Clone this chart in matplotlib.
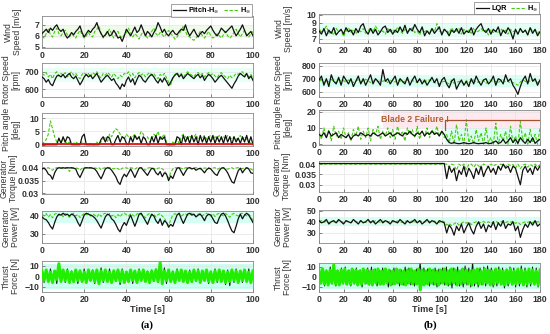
import numpy as np
import matplotlib
matplotlib.use("Agg")
import matplotlib.pyplot as plt

# ---------------- data (a): 0..100 s ----------------
wind_a_pitch = [6.2,6.4,6.6,6.3,6.7,6.5,6.8,7.0,6.6,6.4,6.6,6.1,5.8,6.0,6.3,6.1,6.4,6.6,6.9,6.3,5.9,6.2,6.5,6.3,6.6,6.8,7.2,6.6,6.2,5.9,6.1,6.4,6.0,6.1,6.5,6.2,5.8,5.9,5.5,6.0,6.6,6.3,6.0,6.4,6.8,6.3,6.5,7.0,6.5,6.0,6.4,6.2,5.9,6.3,6.6,7.2,6.8,6.3,6.6,6.2,6.0,6.3,6.5,6.2,6.1,6.4,6.6,6.5,7.0,6.4,6.0,6.3,6.6,6.2,5.9,6.2,6.4,6.2,6.5,6.7,6.9,6.5,6.2,6.0,6.3,6.7,6.5,6.3,6.5,6.7,6.9,6.4,6.0,6.3,6.6,7.0,6.5,6.0,6.2,6.4,6.0]
wind_a_hinf = [6.0,5.8,6.2,6.6,6.1,5.9,6.4,6.7,6.2,6.0,6.3,6.5,6.1,5.9,6.2,6.0,5.8,6.2,6.5,6.1,5.8,6.0,6.3,6.0,5.9,6.4,6.6,6.9,6.2,5.8,6.0,6.3,6.6,6.2,5.8,6.1,6.4,6.0,5.8,6.1,6.3,6.7,6.2,5.9,6.2,6.0,5.7,6.1,6.4,6.1,5.8,6.0,6.4,6.7,6.2,6.0,6.3,6.1,5.9,6.2,6.5,6.2,6.0,5.7,5.9,6.2,6.5,6.9,6.4,6.0,5.9,5.7,5.6,5.8,6.1,6.4,6.0,5.8,6.1,6.4,6.0,5.8,5.9,6.2,6.0,5.8,6.1,6.4,6.0,5.8,6.0,6.3,6.6,6.2,5.9,6.2,6.5,6.1,5.9,6.2,6.4]

rotor_a_pitch = [670,660,640,655,630,620,650,675,680,670,685,665,680,690,670,660,675,650,625,645,670,685,670,680,660,675,690,665,640,655,670,680,665,650,660,635,620,600,630,615,650,670,640,660,625,655,680,670,650,640,660,675,685,670,650,635,660,640,665,645,620,640,665,680,690,670,685,660,675,690,680,670,660,675,685,665,680,650,670,685,675,660,640,655,670,680,665,650,635,620,605,630,650,675,690,680,670,690,660,675,650]
rotor_a_hinf = [690,680,695,670,685,660,690,700,675,690,680,695,670,685,700,680,690,670,660,685,695,680,690,670,695,685,700,675,665,690,680,695,685,670,690,675,660,680,670,690,685,700,675,690,665,685,695,680,690,670,685,695,680,690,670,660,685,675,690,665,640,625,660,685,695,680,690,670,685,700,690,680,670,690,695,680,690,670,685,695,680,690,675,665,685,695,680,670,660,680,665,675,690,685,695,700,680,690,670,685,660]

pitch_a_pitch = [0,0,0,0,0,0,0,0,2.5,0.5,3,1,3,2.5,0,0,0,0,0,3,4,0,0,0,0,0,0,0,2,3,1,3,2.5,0,0,2,3.5,1,3,2.5,0.5,0,3,1,3.5,2,3,0.5,3,2,0,0,3,1,3.5,0.5,3,2,3,0,0,0,0,0,3,2.5,0,3.5,1,3,0.5,3.5,1,3,0,3.5,1,3,0.5,3,1,3.5,0.5,3,1,3,0.5,3.5,1,3,0,3,1,2.5,0.5,3,1,3.5,0.5,3,0]
pitch_a_hinf = [0,1,2,4,9,6,3,1,2,1,2,1,0.5,1,0,0.5,1,0.5,0,1,0.5,0,0,0.5,0,0,1,0,1,2,3,1,4,3,5,6,5.5,4,3,2,4,3,2,3,4,2,3,5,4,2,3,1,2,4,3,5,2,3,4,1,0.5,0,1,0.5,2,0.5,3,4,3,2,3.5,2.5,3,4,2,3,2.5,3.5,2,3,3.5,2,3,2.5,3.5,2,3,2,3.5,3,2,3,2,2.5,3.5,2,3,2,1,0.5,0]

torque_a_pitch = [0.0395,0.0398,0.039,0.0375,0.037,0.0355,0.038,0.0395,0.04,0.0398,0.04,0.0398,0.04,0.0399,0.04,0.0398,0.0395,0.0375,0.0362,0.038,0.0398,0.04,0.0399,0.04,0.0398,0.0395,0.0385,0.037,0.0357,0.0375,0.0395,0.04,0.0398,0.039,0.0378,0.0365,0.0345,0.0335,0.036,0.0375,0.0365,0.038,0.0395,0.038,0.0362,0.038,0.0398,0.04,0.039,0.038,0.037,0.0385,0.0398,0.0395,0.038,0.0372,0.0385,0.0365,0.038,0.0375,0.035,0.0368,0.0358,0.038,0.0398,0.04,0.0385,0.037,0.0385,0.0398,0.04,0.0395,0.0398,0.039,0.0395,0.0398,0.039,0.038,0.0392,0.0398,0.0395,0.0385,0.0375,0.037,0.0388,0.0398,0.04,0.0392,0.038,0.0362,0.0345,0.034,0.0365,0.0388,0.0398,0.038,0.0392,0.04,0.0395,0.038,0.0378]
torque_a_hinf = [0.04,0.0399,0.0398,0.04,0.0395,0.039,0.0398,0.04,0.0399,0.04,0.0396,0.04,0.0399,0.0385,0.0398,0.04,0.0399,0.0397,0.039,0.0398,0.04,0.0399,0.04,0.0398,0.04,0.0399,0.0397,0.04,0.0392,0.0398,0.04,0.0399,0.04,0.0398,0.0395,0.04,0.0396,0.039,0.0398,0.04,0.0399,0.0397,0.04,0.0398,0.0394,0.04,0.0399,0.04,0.0396,0.039,0.0398,0.04,0.0399,0.0397,0.0392,0.0398,0.04,0.0395,0.039,0.0375,0.036,0.038,0.0395,0.04,0.0399,0.04,0.0398,0.0394,0.04,0.0399,0.04,0.0397,0.0399,0.04,0.0398,0.0395,0.04,0.0398,0.0399,0.04,0.0396,0.0399,0.04,0.0393,0.0398,0.04,0.0399,0.0397,0.0394,0.0398,0.04,0.0395,0.0399,0.04,0.0398,0.0396,0.04,0.0399,0.0398,0.0395,0.039]

power_a_pitch = [39,38,37.5,36,34,32.5,36,39,40.5,40,41,40,40.5,39.5,40.5,40,38.5,36,34,37,40,41,40.5,40,39.5,38.5,37,35,33,36,39,40.5,40,38,37,35,32.5,31,34,36,34.5,37.5,40,37,34,37,40.5,41,39,37,35,38,40.5,39.5,37,35.5,38,34.5,37,36,33.5,35,34,37,40,41,38,35.5,38,40.5,41,40,40.5,39,40,40.5,39,37,39.5,40.5,40,38,36,35.5,38.5,40.5,41,39.5,37,34,31.5,30.5,34,38,40.5,38,40,41,40,38,36]
power_a_hinf = [40.5,39.5,40.8,39,40.2,38.5,40.5,41,39.8,40.6,39.2,40.8,40,38.8,40.5,41,39.6,40.3,38.7,39.9,40.8,40.2,41,39.5,40.6,40,38.9,40.7,39.3,40.5,41,40.1,40.8,39.4,40.2,38.6,40.3,39,40.6,41,40.2,39.5,40.8,40,39.2,40.6,41,40.3,39.7,38.5,40.2,40.9,39.6,40.5,39,40.3,40.8,39.4,38.5,36,34.5,37.5,40,40.8,40.2,41,39.5,40.3,40.7,39.8,40.5,41,40.1,39.3,40.6,40.9,39.7,40.4,41,40,39.5,40.7,39.2,40.5,40.9,40.2,39.6,40.8,40,38.8,40.4,40.9,40.1,39.5,40.7,41,40.3,39.6,40.5,39,37]

thrust_a_pitch = [6,-6,4,-5,7,-4,5,-7,8,-5,6,-6,7,-5,5,-6,4,-7,6,-5,7,-6,5,-4,6,-7,5,-5,8,-6,4,-5,7,-6,6,-5,5,-8,7,-6,4,-5,6,-7,5,-6,7,-4,6,-5,5,-7,6,-5,7,-6,4,-5,8,-7,6,-5,5,-6,7,-4,6,-5,5,-7,6,-6,4,-5,7,-6,5,-4,6,-7,5,-5,7,-6,6,-5,4,-8,6,-9,5,-6,7,-5,4,-6,6,-5,7,-6,5]
thrust_a_hinf = [5,-4,6,-5,4,-6,5,-3,12,-5,6,-4,5,-6,4,-5,6,-4,5,-5,4,-6,6,-4,5,-5,6,-7,5,-4,6,-5,4,-6,5,-4,6,-5,5,-6,4,-5,6,-4,5,-6,5,-4,6,-5,4,-6,5,-4,6,-5,13,-7,5,-4,6,-5,4,-6,5,-4,6,-5,5,-6,4,-5,6,-4,5,-6,5,-4,6,-5,4,-6,5,-4,6,-5,5,-6,4,-5,6,-4,5,-6,5,-4,6,-5,4,-6,5]

# ---------------- data (b): 0..180 s ----------------
wind_b_lqr = [8.0,7.6,8.3,7.4,8.1,7.7,8.4,7.5,7.9,8.2,7.6,8.4,7.9,8.1,7.5,8.3,7.8,8.6,8.9,8.0,7.6,8.3,7.7,8.2,7.5,7.9,8.4,8.6,7.8,8.2,7.6,8.1,7.8,8.5,7.9,8.7,7.7,8.3,8.0,8.8,8.2,7.8,8.5,7.4,8.0,7.6,8.3,7.7,8.1,8.5,7.5,8.2,7.9,7.4,8.1,7.8,8.3,7.7,8.4,7.6,8.0,7.8,8.4,7.5,8.2,8.6,8.9,8.1,7.8,8.3,7.6,8.2,7.9,8.5,7.4,8.1,7.7,8.4,7.9,7.0,8.2,7.6,8.3,7.8,8.1,7.5,8.4,7.7,8.2,7.4,7.9]
wind_b_hinf = [8.3,7.8,8.1,8.6,7.7,8.0,7.5,8.3,7.9,8.1,7.3,8.0,8.4,7.8,8.2,7.6,8.1,7.9,8.3,7.7,8.0,8.4,7.9,8.6,8.1,7.8,8.0,7.6,8.3,7.9,8.2,7.8,8.5,8.0,7.7,8.2,7.9,8.1,8.4,7.8,8.0,7.5,8.3,7.9,8.1,7.6,8.3,7.9,8.9,8.0,7.8,8.2,8.1,7.7,8.4,7.9,8.0,8.3,7.6,8.2,7.9,8.1,7.7,8.4,7.8,8.0,8.3,7.9,8.1,7.5,8.2,7.8,8.0,7.7,8.3,7.9,8.1,7.6,8.2,7.9,8.0,7.6,8.3,7.8,8.1,7.5,8.4,7.9,8.1,7.7,8.0]

rotor_b_lqr = [690,720,650,700,640,730,680,660,710,650,720,690,660,700,640,680,720,660,700,650,690,730,660,700,680,650,770,680,700,660,690,720,650,700,680,660,710,650,690,720,670,700,660,690,650,680,710,670,700,640,690,710,660,630,680,700,620,660,690,650,680,640,700,660,720,680,650,690,700,660,680,720,650,700,690,660,730,680,700,650,620,580,640,690,720,660,740,680,700,650,690]
rotor_b_hinf = [680,690,670,685,675,695,680,670,690,680,685,675,690,680,670,685,690,675,680,695,685,670,680,690,675,685,680,690,670,685,680,675,690,685,670,680,690,675,685,680,670,690,680,675,685,690,680,670,665,660,675,680,670,660,690,665,670,680,675,660,685,670,680,690,670,675,680,685,665,680,690,675,680,670,685,690,675,680,665,670,660,650,675,690,680,670,685,690,680,670,685]

pitch_b_lqr = [6,5,7,4,8,5,6,7,4,6,5,4,6,3,5,6,5,7,6,5,6,5,7,6,5,6,7,5,6,7,5,6,7,6,5,7,6,8,6,5,7,6,8,5,7,6,8,6,7,5,8,6,3,1,0.5,1,0.5,0.3,0.5,1,0.5,0.3,0.5,1,0.5,0.3,0.5,0.5,1,0.3,0.5,1,2,0.5,1,3,0.5,2,4,1,3,0.5,4,2,0.5,3,1,4,0.5,2,3]
pitch_b_hinf = [8,3,10,4,9,2,11,5,8,3,10,4,7,2,9,5,11,3,8,4,10,2,9,6,11,3,8,5,10,4,9,3,11,5,8,2,10,6,9,4,11,3,8,5,10,4,9,6,11,5,8,4,6,1,8,0,12,2,6,0,15,1,5,0,9,2,7,0,10,1,4,0,13,0,6,2,8,0,11,1,5,0,14,2,7,0,9,1,6,0,10]

torque_b_lqr = [0.0403,0.0403,0.0403,0.0403,0.0403,0.0403,0.0403,0.0403,0.0403,0.0403,0.0403,0.0403,0.0403,0.0403,0.0403,0.0403,0.0403,0.0403,0.0403,0.0403,0.0403,0.0403,0.0403,0.0403,0.0403,0.0403,0.0403,0.0403,0.0403,0.0403,0.0403,0.0403,0.0403,0.0403,0.0403,0.0403,0.0403,0.0403,0.0403,0.0403,0.0403,0.0403,0.0403,0.0403,0.0403,0.0403,0.0403,0.0403,0.0403,0.0403,0.0403,0.0403,0.033,0.039,0.036,0.038,0.032,0.037,0.035,0.039,0.034,0.038,0.036,0.033,0.038,0.035,0.039,0.034,0.037,0.039,0.036,0.038,0.035,0.039,0.037,0.04,0.038,0.039,0.036,0.039,0.038,0.034,0.03,0.037,0.039,0.036,0.038,0.035,0.039,0.037,0.039]
torque_b_hinf = [0.04,0.04,0.04,0.04,0.04,0.04,0.04,0.04,0.04,0.04,0.04,0.04,0.04,0.04,0.04,0.04,0.04,0.04,0.04,0.04,0.04,0.04,0.04,0.04,0.04,0.04,0.04,0.04,0.04,0.04,0.04,0.04,0.04,0.04,0.04,0.04,0.04,0.04,0.04,0.04,0.04,0.04,0.04,0.04,0.04,0.04,0.04,0.04,0.04,0.04,0.04,0.04,0.04,0.0385,0.04,0.0395,0.037,0.04,0.039,0.04,0.0375,0.0398,0.04,0.0385,0.04,0.0392,0.0375,0.04,0.0395,0.0385,0.04,0.039,0.0398,0.0382,0.04,0.0395,0.0388,0.04,0.0392,0.0398,0.038,0.04,0.0378,0.0395,0.04,0.0385,0.0398,0.039,0.04,0.0385,0.0398]

power_b_lqr = [41,39,40,42,38,40,41,39,42,40,38,41,40,39,42,40,38,41,39,40,42,39,41,38,40,42,39,41,40,38,41,40,39,42,40,38,41,39,40,42,39,41,38,40,42,39,41,40,38,41,40,39,30,37,34,28,36,32,38,30,35,39,33,29,36,40,34,38,31,37,35,40,33,39,36,41,34,38,37,40,32,36,26,33,38,35,40,37,41,36,38]
power_b_hinf = [40,41,39.5,40.5,39,40.8,40,39.2,41,40.2,39.5,40.6,40,39.3,40.8,40.2,39.6,41,40,39.4,40.7,40.1,39.5,40.9,40.2,39.6,40.5,40,39.2,40.8,40.1,39.6,40.7,40,39.3,40.6,40.2,39.5,41,40,39.4,40.7,40.1,39.6,40.8,40.2,39.5,40.6,40,39.3,40.7,40.1,37,38.5,36.5,38,39.5,37,38.5,40,38.8,39.5,37.5,39,40,38.5,39.5,40.2,39,40,38.6,39.8,40.3,39.2,40,40.5,39.4,40.1,39.6,40.4,38.5,39.6,37.5,39,40,39.5,40.2,39.2,40.5,39.8,40]

thrust_b_lqr = [9,-7,8,-9,7,-8,10,-7,8,-9,7,-8,9,-7,10,-8,7,-9,8,-7,9,-8,7,-10,8,-7,9,-8,10,-7,8,-9,7,-8,9,-7,8,-10,7,-8,9,-7,8,-9,7,-8,10,-7,9,-8,7,-9,8,-7,15,-8,9,-7,8,-9,7,-8,9,-10,8,-7,9,-8,10,-9,8,-11,9,-8,10,-9,8,-10,11,-8,9,-10,15,-9,8,-10,9,-8,10,-9,11,-8,9,-10,8,-9,10,-8,9,-11,8,-9,10,-8,9,-10,8,-9,11,-8,9,-10,8,-9,10,-8,9,-10,8]
thrust_b_hinf = [7,-6,8,-7,6,-8,7,-6,12,-7,6,-8,7,-6,8,-7,6,-7,8,-6,7,-8,6,-7,8,-6,7,-7,6,-8,7,-6,8,-7,6,-7,8,-6,7,-8,6,-7,8,-6,7,-7,6,-8,7,-6,8,-7,6,-7,8,-13,7,-8,6,-7,8,-6,7,-7,6,-8,7,-6,8,-7,6,-7,8,-6,7,-8,6,-7,8,-6,7,-7,6,-8,7,-6,8,-7,6,-7,8,-6,7,-8,6,-7,8,-6,7,-7,6,-8,7,-6,8,-7,6,-7,8,-6,7,-8,6,-7,8,-6,7,-7,6,-8,7]

ylabels = ["Wind\nSpeed [m/s]", "Rotor Speed\n[rpm]", "Pitch angle\n[deg]",
           "Generator\nTorque [Nm]", "Generator\nPower [W]", "Thrust\nForce [N]"]
xticks_a = [0, 20, 40, 60, 80, 100]
xticks_b = [0, 20, 40, 60, 80, 100, 120, 140, 160, 180]
yticks_a = [[5, 6, 7], [600, 700], [0, 5, 10], [0.03, 0.035, 0.04], [30, 40], [-10, 0, 10]]
yticks_b = [[7, 8, 9, 10], [600, 700, 800], [0, 10, 20], [0.03, 0.035, 0.04], [30, 40, 50], [-10, 0, 10]]
ylims_a = [(4.9, 7.8), (555, 750), (-0.5, 12), (0.0298, 0.0422), (25, 42.2), (-15, 14.5)]
ylims_b = [(6.5, 10.1), (560, 820), (-0.5, 21), (0.0265, 0.0415), (21, 50.5), (-15, 14)]
legend_a = ["Pitch-H$_\\infty$", "H$_\\infty$"]
legend_b = ["LQR", "H$_\\infty$"]
failure_text = "Blade 2 Failure !"

series_a = [(wind_a_pitch, wind_a_hinf), (rotor_a_pitch, rotor_a_hinf), (pitch_a_pitch, pitch_a_hinf),
            (torque_a_pitch, torque_a_hinf), (power_a_pitch, power_a_hinf), (thrust_a_pitch, thrust_a_hinf)]
series_b = [(wind_b_lqr, wind_b_hinf), (rotor_b_lqr, rotor_b_hinf), (pitch_b_lqr, pitch_b_hinf),
            (torque_b_lqr, torque_b_hinf), (power_b_lqr, power_b_hinf), (thrust_b_lqr, thrust_b_hinf)]

# ---------------- figure ----------------
W, H = 550, 334
fig = plt.figure(figsize=(W / 100, H / 100), dpi=100)
plt.rcParams['font.family'] = ['Liberation Sans', 'DejaVu Sans']

rows_a = [(16, 48), (63, 97), (113, 146), (162, 194), (211, 243), (261, 292)]
rows_b = [(14, 43), (63, 97), (110, 145), (161, 192), (210, 243), (263, 292)]
cols = {'a': (42, 253), 'b': (319, 540)}
# right edge of the y-label block, in pixels
label_right = {'a': [22, 20, 20, 18, 20, 20], 'b': [293, 292, 292, 291, 292, 292]}

BLACK = '#111111'
GREEN = '#44cc11'
TXT = '#333333'

bands_a = [(5.8, 6.9, '#effbe9'), (640, 720, '#e8fff6'), None, None, (36, 42, '#d6fff3'), (-12, 12, '#c9fff0')]
bands_b = [(7.2, 8.8, '#e3fff5'), (640, 730, '#d9fff3'), None, None, (36, 44, '#d6fff3'), (-12, 13, '#c9fff0')]


def make_axes(col, rows, xmax, xticks, yticks, ylims, series, bands):
    x0, x1 = cols[col]
    axes = []
    for i, (top, bot) in enumerate(rows):
        ax = fig.add_axes([x0 / W, 1 - bot / H, (x1 - x0) / W, (bot - top) / H])
        b = bands[i]
        if b is not None:
            ax.axhspan(b[0], b[1], color=b[2], lw=0, zorder=0)
        blk, grn = series[i]
        tb = np.linspace(0, xmax, len(blk))
        tg = np.linspace(0, xmax, len(grn))
        if i == 5:
            l1, = ax.plot(tb, blk, color=BLACK, lw=0.7, zorder=2)
            l2, = ax.plot(tg, grn, color='#22ee00', lw=2.2, zorder=3)
        else:
            l1, = ax.plot(tb, blk, color=BLACK, lw=0.9, zorder=3)
            l2, = ax.plot(tg, grn, color=GREEN, lw=0.8, ls=(0, (3, 1.5)), zorder=2)
        ax.set_xlim(0, xmax)
        ax.set_ylim(*ylims[i])
        ax.set_xticks(xticks)
        ax.set_yticks(yticks[i])
        if i == 3:
            ax.set_yticklabels(['0.03', '0.035', '0.04'])
        ax.grid(True, color='#e4e4e4', lw=0.5, zorder=1)
        ax.set_axisbelow(True)
        ax.tick_params(direction='in', length=2, width=0.5, labelsize=6.3,
                       colors='#555555', labelcolor=TXT, pad=2)
        for lab in ax.get_xticklabels() + ax.get_yticklabels():
            lab.set_fontweight('bold')
        for s in ax.spines.values():
            s.set_color('#888888')
            s.set_linewidth(0.6)
        ax.set_ylabel(ylabels[i], fontsize=6.2, color=TXT, linespacing=1.0)
        ax.yaxis.set_label_coords((label_right[col][i] - x0) / (x1 - x0), 0.5)
        axes.append((ax, l1, l2))
    return axes


axA = make_axes('a', rows_a, 100, xticks_a, yticks_a, ylims_a, series_a, bands_a)
axB = make_axes('b', rows_b, 180, xticks_b, yticks_b, ylims_b, series_b, bands_b)

# pitch panel (a): failed blade stays at zero
axA[2][0].axhline(0.3, color='#e01010', lw=1.3, zorder=4)

# pitch panel (b): failure annotation
axp = axB[2][0]
axp.axvspan(52, 180, ymin=(10 + 0.5) / 21.5, ymax=1, color='#ffe9ef', lw=0, zorder=0)
axp.axvspan(103, 180, ymin=0, ymax=(10 + 0.5) / 21.5, color='#d9fff3', lw=0, zorder=0)
axp.plot([103, 103, 180], [9, 15, 15], color='#a0522d', lw=0.9, zorder=4)
axp.text(78, 15.3, failure_text, color='#b0602a', fontsize=6.3, fontweight='bold',
         ha='center', va='center', zorder=5)

# legends
for axes, labels in ((axA, legend_a), (axB, legend_b)):
    ax, l1, l2 = axes[0]
    leg = ax.legend([l1, l2], labels, loc='lower right', bbox_to_anchor=(1.0, 0.96),
                    ncol=2, frameon=True, borderpad=0.2, handlelength=1.8,
                    handletextpad=0.3, columnspacing=0.6, borderaxespad=0.1, fancybox=False,
                    prop={'weight': 'bold', 'size': 5.3})
    leg.get_frame().set_edgecolor('#777777')
    leg.get_frame().set_linewidth(0.6)

for axes in (axA, axB):
    axes[5][0].set_xlabel("Time [s]", fontsize=6.6, fontweight='bold', color=TXT, labelpad=1)

fig.text(147 / W, 1 - 325 / H, "(a)", ha='center', va='center', fontsize=8,
         fontweight='bold', family='Liberation Serif')
fig.text(430 / W, 1 - 325 / H, "(b)", ha='center', va='center', fontsize=8,
         fontweight='bold', family='Liberation Serif')

fig.savefig("out.png", dpi=100)
